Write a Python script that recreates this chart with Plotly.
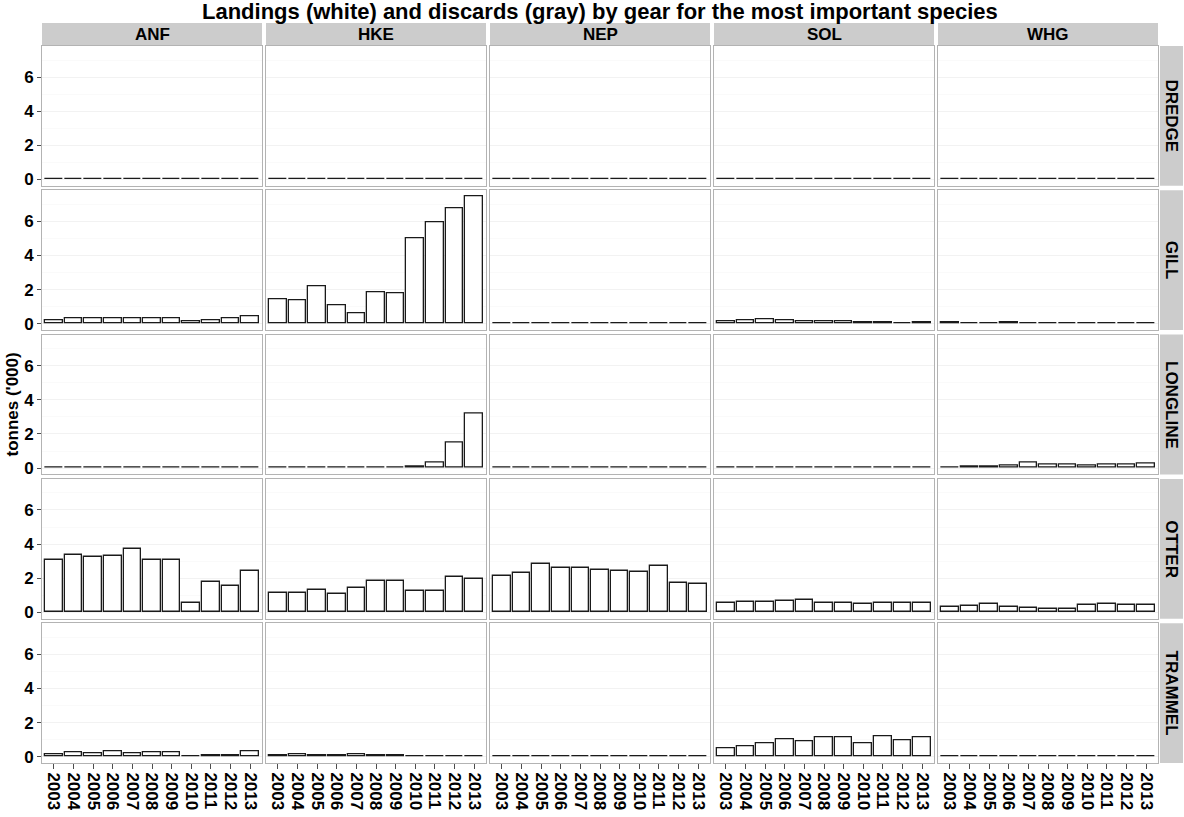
import plotly.graph_objects as go
from plotly.subplots import make_subplots

years = [2003, 2004, 2005, 2006, 2007, 2008, 2009, 2010, 2011, 2012, 2013]
species = ["ANF", "HKE", "NEP", "SOL", "WHG"]
gears = ["DREDGE", "GILL", "LONGLINE", "OTTER", "TRAMMEL"]

# landings ('000 tonnes), one row per species in the order of `species`
dredge = [
    [0, 0, 0, 0, 0, 0, 0, 0, 0, 0, 0],
    [0, 0, 0, 0, 0, 0, 0, 0, 0, 0, 0],
    [0, 0, 0, 0, 0, 0, 0, 0, 0, 0, 0],
    [0, 0, 0, 0, 0, 0, 0, 0, 0, 0, 0],
    [0, 0, 0, 0, 0, 0, 0, 0, 0, 0, 0],
]
gill = [
    [0.20, 0.32, 0.32, 0.30, 0.32, 0.30, 0.30, 0.12, 0.20, 0.30, 0.44],
    [1.44, 1.36, 2.17, 1.06, 0.63, 1.83, 1.79, 5.02, 5.96, 6.75, 7.45],
    [0, 0, 0, 0, 0, 0, 0, 0, 0, 0, 0],
    [0.14, 0.20, 0.24, 0.20, 0.14, 0.14, 0.14, 0.10, 0.06, 0.04, 0.06],
    [0.06, 0.05, 0.05, 0.06, 0.05, 0.05, 0.05, 0.05, 0.05, 0.05, 0.05],
]
longline = [
    [0, 0, 0, 0, 0, 0, 0, 0, 0, 0, 0],
    [0, 0, 0, 0, 0, 0, 0, 0.08, 0.33, 1.51, 3.18],
    [0, 0, 0, 0, 0, 0, 0, 0, 0, 0, 0],
    [0, 0, 0, 0, 0, 0, 0, 0, 0, 0, 0],
    [0, 0.08, 0.08, 0.16, 0.30, 0.18, 0.18, 0.14, 0.20, 0.20, 0.24],
]
otter = [
    [3.10, 3.39, 3.27, 3.33, 3.70, 3.08, 3.08, 0.58, 1.79, 1.58, 2.42],
    [1.17, 1.13, 1.31, 1.07, 1.46, 1.87, 1.87, 1.27, 1.27, 2.10, 1.95],
    [2.12, 2.33, 2.85, 2.58, 2.58, 2.46, 2.44, 2.40, 2.73, 1.70, 1.66],
    [0.55, 0.60, 0.62, 0.70, 0.74, 0.57, 0.57, 0.51, 0.57, 0.53, 0.53],
    [0.31, 0.37, 0.47, 0.35, 0.29, 0.20, 0.20, 0.41, 0.47, 0.41, 0.43],
]
trammel = [
    [0.17, 0.25, 0.19, 0.31, 0.21, 0.29, 0.29, 0.04, 0.08, 0.08, 0.31],
    [0.10, 0.12, 0.06, 0.06, 0.12, 0.08, 0.08, 0.04, 0.04, 0.04, 0.04],
    [0, 0, 0, 0, 0, 0, 0, 0, 0, 0, 0],
    [0.49, 0.62, 0.80, 1.01, 0.93, 1.15, 1.15, 0.80, 1.18, 0.95, 1.13],
    [0.02, 0.03, 0.03, 0.04, 0.03, 0.04, 0.04, 0.03, 0.04, 0.04, 0.04],
]
by_gear = [dredge, gill, longline, otter, trammel]

W, H = 1184, 817
ml, mr, mt, mb = 42, 26, 46, 54
pw, ph = W - ml - mr, H - mt - mb

fig = make_subplots(rows=5, cols=5, shared_xaxes=True, shared_yaxes=True,
                    horizontal_spacing=4 / pw, vertical_spacing=4.5 / ph)

for r, gear_vals in enumerate(by_gear):
    for c, vals in enumerate(gear_vals):
        fig.add_trace(go.Bar(
            x=years, y=vals, width=0.9,
            marker=dict(color="white", line=dict(color="#1a1a1a", width=1.3)),
            showlegend=False, hoverinfo="x+y"
        ), row=r + 1, col=c + 1)

font = "Liberation Sans, Arial, sans-serif"
fig.update_xaxes(range=[2002.4, 2013.6], tickvals=years, tickangle=90, automargin=False,
                 showgrid=False, zeroline=False,
                 showline=True, mirror=True, linecolor="#b3b3b3", linewidth=1,
                 tickfont=dict(family=font, size=17, color="black", weight="bold"))
for c in range(1, 6):
    fig.update_xaxes(ticks="outside", ticklen=5, tickcolor="#4d4d4d", row=5, col=c)
fig.update_yaxes(range=[-0.37, 7.82], tickvals=[0, 2, 4, 6], automargin=False,
                 showgrid=True, gridcolor="#f2f2f2", gridwidth=1,
                 minor=dict(tickvals=[1, 3, 5, 7], showgrid=True, gridcolor="#fafafa"),
                 zeroline=False,
                 showline=True, mirror=True, linecolor="#b3b3b3", linewidth=1,
                 tickfont=dict(family=font, size=17, color="black", weight="bold"))
for r in range(1, 6):
    fig.update_yaxes(ticks="outside", ticklen=4, tickcolor="#4d4d4d", row=r, col=1)

# facet strips
shapes, annotations = [], []
top = 1 + (mt - 23) / ph
for c, sp in enumerate(species):
    dom = fig.layout["xaxis" + ("" if c == 0 else str(c + 1))].domain
    shapes.append(dict(type="rect", xref="paper", yref="paper", x0=dom[0], x1=dom[1],
                       y0=1 + 1 / ph, y1=top, fillcolor="#cccccc", line=dict(width=0)))
    annotations.append(dict(text=sp, x=(dom[0] + dom[1]) / 2, y=(1 + top) / 2,
                            xref="paper", yref="paper", showarrow=False,
                            xanchor="center", yanchor="middle",
                            font=dict(family=font, size=17, color="black", weight="bold")))
for r, g in enumerate(gears):
    dom = fig.layout["yaxis" + ("" if r == 0 else str(r * 5 + 1))].domain
    x0, x1 = 1 + 2 / pw, 1 + 25 / pw
    shapes.append(dict(type="rect", xref="paper", yref="paper", x0=x0, x1=x1,
                       y0=dom[0], y1=dom[1], fillcolor="#cccccc", line=dict(width=0)))
    annotations.append(dict(text=g, x=(x0 + x1) / 2, y=(dom[0] + dom[1]) / 2,
                            xref="paper", yref="paper", showarrow=False, textangle=90,
                            xanchor="center", yanchor="middle",
                            font=dict(family=font, size=17, color="black", weight="bold")))

annotations.append(dict(text="tonnes ('000)", x=-30 / pw, y=0.5, xref="paper", yref="paper",
                        showarrow=False, textangle=-90, xanchor="center", yanchor="middle",
                        font=dict(family=font, size=17, color="black", weight="bold")))
annotations.append(dict(text="Landings (white) and discards (gray) by gear for the most important species",
                        x=0.5, y=1 + (mt - 12) / ph, xref="paper", yref="paper", showarrow=False,
                        xanchor="center", yanchor="middle",
                        font=dict(family=font, size=22, color="black", weight="bold")))

fig.update_layout(width=W, height=H, margin=dict(l=ml, r=mr, t=mt, b=mb),
                  plot_bgcolor="white", paper_bgcolor="white", bargap=0,
                  shapes=shapes, annotations=annotations)

# drop the default page margin so the figure sits at the window's corner
fig.write_html("out.html", config={"displayModeBar": False},
               post_script="document.body.style.margin='0';")
